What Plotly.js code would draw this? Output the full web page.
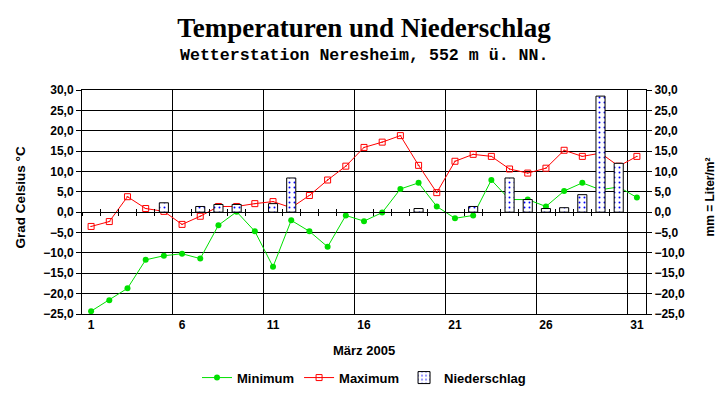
<!DOCTYPE html>
<html><head><meta charset="utf-8">
<script src="https://cdn.plot.ly/plotly-3.0.1.min.js"></script>
<style>html,body{margin:0;padding:0;background:#fff}</style>
</head><body><div id="chart" style="width:727px;height:404px"></div>
<script>
const days = [1,2,3,4,5,6,7,8,9,10,11,12,13,14,15,16,17,18,19,20,21,22,23,24,25,26,27,28,29,30,31];
const minimum = [-24.3,-21.6,-18.7,-11.7,-10.7,-10.2,-11.4,-3.2,0.1,-4.7,-13.4,-2.0,-4.7,-8.5,-0.8,-2.2,-0.1,5.7,7.2,1.4,-1.5,-0.8,7.9,3.1,3.1,1.4,5.2,7.2,5.5,6.2,3.6];
const maximum = [-3.5,-2.3,3.8,0.9,0.2,-3.0,-1.0,1.4,1.4,2.1,2.6,1.1,4.1,7.9,11.3,15.9,17.2,18.8,11.5,4.8,12.5,14.2,13.7,10.6,9.6,10.8,15.2,13.7,14.5,11.3,13.7];
const niederschlag = [0,0,0,0,2.3,0,1.4,1.9,1.9,0,2.1,8.4,0,0,0,0,0,0,0.9,0,0,1.4,0,8.4,3.1,0.9,1.1,4.3,28.5,12.0,0];
const xTickVals = [1,6,11,16,21,26,31];
const xGridVals = [5.5,10.5,15.5,20.5,25.5,30.5];
const yTickVals = [-25,-20,-15,-10,-5,0,5,10,15,20,25,30];
const yRange = [-25,30];
const xRange = [0.5,31.5];

const F = 'Liberation Sans, Arial, sans-serif';
const bold = (s) => ({family: F, size: s, color: '#000', weight: 'bold'});

const traces = [
  {type:'scatter', mode:'lines+markers', name:'Minimum', x:days, y:minimum, xaxis:'x', yaxis:'y',
   line:{color:'#00e000', width:1}, marker:{symbol:'circle', size:6, color:'#00e000'}},
  {type:'scatter', mode:'lines+markers', name:'Maximum', x:days, y:maximum, xaxis:'x', yaxis:'y',
   line:{color:'#ff0000', width:1}, marker:{symbol:'square-open-dot', size:6, color:'#ff0000', line:{width:1, color:'#ff0000'}}},
  {type:'bar', name:'Niederschlag', x:days, y:niederschlag.map(v => v === 0 ? null : v), xaxis:'x', yaxis:'y2', width:0.5,
   marker:{color:'#ffffff', line:{color:'#000', width:1},
     pattern:{shape:'.', fgcolor:'#0000ff', bgcolor:'#ffffff', size:5, solidity:0.12}}},
  {type:'scatter', mode:'markers', x:[], y:[], xaxis:'x3', yaxis:'y', showlegend:false, hoverinfo:'skip'},
  {type:'scatter', mode:'markers', x:[], y:[], xaxis:'x4', yaxis:'y', showlegend:false, hoverinfo:'skip'}
];

const dom = [0,1];
const zeroPos = dom[0] + (0 - yRange[0])/(yRange[1]-yRange[0])*(dom[1]-dom[0]);
const halfTicks = (dir) => ({overlaying:'x', anchor:'free', position:zeroPos, range:xRange, tick0:0.5, dtick:1, tickmode:'linear',
    ticks:dir, ticklen:3, tickcolor:'#000', tickwidth:1, showticklabels:false, showline:true, linecolor:'#000', showgrid:false, zeroline:false});

const layout = {
  width:727, height:404, paper_bgcolor:'#fff', plot_bgcolor:'#fff',
  margin:{l:82, r:81, t:90, b:86, pad:0},
  separators:',.',
  showlegend:true,
  title:{text:'Temperaturen und Niederschlag', font:{family:'Liberation Serif, Times New Roman, serif', size:27, color:'#000', weight:'bold'},
    x:0.5, xanchor:'center', xref:'paper', yref:'container', y:1-28/404, yanchor:'middle'},
  xaxis:{range:xRange, tickvals:xTickVals, ticktext:xTickVals.map(String), showgrid:false, ticks:'', tickfont:bold(12),
    showline:true, linecolor:'#000', linewidth:1, mirror:true, zeroline:false, fixedrange:true,
    minor:{tickvals:xGridVals, showgrid:true, gridcolor:'#000', gridwidth:1, ticks:''}},
  xaxis3:halfTicks('outside'),
  xaxis4:halfTicks('inside'),
  yaxis:{range:yRange, tickvals:yTickVals, tickformat:'.1f', showgrid:true, gridcolor:'#000', gridwidth:1,
    ticks:'outside', ticklen:5, tickcolor:'#000', showline:true, linecolor:'#000', zeroline:true, zerolinecolor:'#000', zerolinewidth:1,
    tickfont:bold(12), domain:dom},
  yaxis2:{range:yRange, tickvals:yTickVals, tickformat:'.1f', overlaying:'y', side:'right', showgrid:false,
    ticks:'outside', ticklen:5, tickcolor:'#000', showline:true, linecolor:'#000', zeroline:false, tickfont:bold(12)},
  legend:{orientation:'h', x:0.5, xanchor:'center', y:-0.284, yanchor:'middle', font:bold(13), bgcolor:'rgba(0,0,0,0)',
    traceorder:'normal', itemwidth:30},
  bargap:0,
  annotations:[
    {text:'Wetterstation Neresheim, 552 m ü. NN.', xref:'paper', yref:'paper', x:0.5, y:1+(90-55)/227.5, xanchor:'center', yanchor:'middle',
     showarrow:false, font:{family:'Liberation Mono, Courier New, monospace', size:16.6, color:'#000', weight:'bold'}},
    {text:'März 2005', xref:'paper', yref:'paper', x:0.5, y:-(355-317.5)/227.5, xanchor:'center', yanchor:'middle', showarrow:false, font:bold(13)},
    {text:'Grad Celsius °C', xref:'paper', yref:'paper', x:0, xshift:-61, y:0.52, xanchor:'center', yanchor:'middle', textangle:-90, showarrow:false, font:bold(13.5)},
    {text:'mm = Liter/m²', xref:'paper', yref:'paper', x:1, xshift:64, y:0.52, xanchor:'center', yanchor:'middle', textangle:-90, showarrow:false, font:bold(12)}
  ]
};

Plotly.newPlot('chart', traces, layout, {displayModeBar:false, staticPlot:true});
</script></body></html>
